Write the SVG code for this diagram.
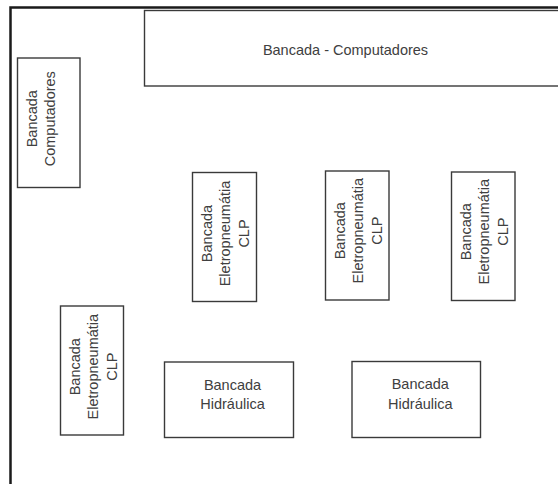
<svg xmlns="http://www.w3.org/2000/svg" width="558" height="484" viewBox="0 0 558 484">
  <style>
    .frame { fill: none; stroke: #1a1a1a; stroke-width: 2.5; }
    .bench { fill: #ffffff; stroke: #3a3a3a; stroke-width: 1.4; }
    .lbl { font-family: "Liberation Sans", Arial, sans-serif; font-size: 14.5px; fill: #404040; text-anchor: middle; }
  </style>
  <rect width="558" height="484" fill="#ffffff"/>

  <!-- room walls -->
  <path class="frame" d="M10.5,484 V7.5 H560"/>

  <g id="bancada-computadores-topo">
    <rect class="bench" x="144.5" y="10.5" width="430" height="75.5"/>
    <text class="lbl" x="345.5" y="55">Bancada - Computadores</text>
  </g>

  <g id="bancada-computadores-lateral">
    <rect class="bench" x="17.5" y="58" width="62.5" height="129.5"/>
    <text class="lbl" transform="translate(36.5,118.7) rotate(-90)"><tspan x="0" y="0">Bancada</tspan><tspan x="0" y="18.5">Computadores</tspan></text>
  </g>

  <g id="bancada-eletro-1">
    <rect class="bench" x="192.5" y="172.5" width="64" height="129"/>
    <text class="lbl" transform="translate(211.5,233.5) rotate(-90)"><tspan x="0" y="0">Bancada</tspan><tspan x="0" y="18.5">Eletropneumátia</tspan><tspan x="0" y="37">CLP</tspan></text>
  </g>

  <g id="bancada-eletro-2">
    <rect class="bench" x="325.5" y="171" width="63.5" height="129"/>
    <text class="lbl" transform="translate(344.5,230.7) rotate(-90)"><tspan x="0" y="0">Bancada</tspan><tspan x="0" y="18.5">Eletropneumátia</tspan><tspan x="0" y="37">CLP</tspan></text>
  </g>

  <g id="bancada-eletro-3">
    <rect class="bench" x="451.5" y="172" width="63.5" height="128.5"/>
    <text class="lbl" transform="translate(470.5,231.7) rotate(-90)"><tspan x="0" y="0">Bancada</tspan><tspan x="0" y="18.5">Eletropneumátia</tspan><tspan x="0" y="37">CLP</tspan></text>
  </g>

  <g id="bancada-eletro-4">
    <rect class="bench" x="60.5" y="306" width="63" height="129"/>
    <text class="lbl" transform="translate(79.5,366.7) rotate(-90)"><tspan x="0" y="0">Bancada</tspan><tspan x="0" y="18.5">Eletropneumátia</tspan><tspan x="0" y="37">CLP</tspan></text>
  </g>

  <g id="bancada-hidraulica-1">
    <rect class="bench" x="164.5" y="362" width="129" height="75.5"/>
    <text class="lbl"><tspan x="232.5" y="390">Bancada</tspan><tspan x="232.5" y="409">Hidráulica</tspan></text>
  </g>

  <g id="bancada-hidraulica-2">
    <rect class="bench" x="352" y="361.5" width="128.5" height="76"/>
    <text class="lbl"><tspan x="420.3" y="389">Bancada</tspan><tspan x="420.3" y="408.5">Hidráulica</tspan></text>
  </g>

  <g id="connectors"/>
</svg>
